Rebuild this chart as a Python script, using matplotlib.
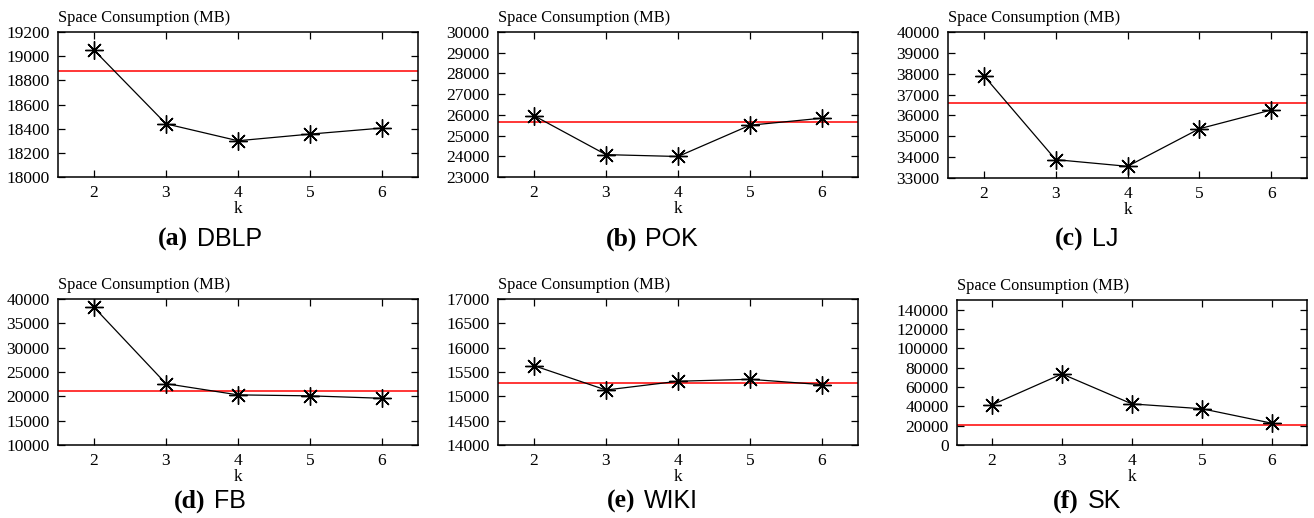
import numpy as np
import matplotlib
matplotlib.use("Agg")
import matplotlib.pyplot as plt
from matplotlib.offsetbox import TextArea, HPacker, AnchoredOffsetbox

# values
k = [2, 3, 4, 5, 6]

dblp = [19050, 18440, 18300, 18355, 18405]
pok = [25960, 24080, 23990, 25500, 25840]
lj = [37900, 33880, 33560, 35360, 36260]
fb = [38300, 22600, 20300, 20100, 19600]
wiki = [15630, 15130, 15310, 15350, 15240]
sk = [41500, 73500, 42500, 37500, 22500]

baselines = [18875, 25650, 36580, 21150, 15270, 20500]

labels = ["(a)", "(b)", "(c)", "(d)", "(e)", "(f)"]
names = ["DBLP", "POK", "LJ", "FB", "WIKI", "SK"]

ylims = [(18000, 19200), (23000, 30000), (33000, 40000),
         (10000, 40000), (14000, 17000), (0, 150000)]
ysteps = [200, 1000, 1000, 5000, 500, 20000]

series = [dblp, pok, lj, fb, wiki, sk]

W, H = 1314, 518
fig = plt.figure(figsize=(W / 100, H / 100), dpi=100)

# axes boxes in pixels: left, right, top, bottom
boxes = [(58, 418, 32, 177), (498, 858, 32, 177), (948, 1307, 32, 178),
         (58, 418, 299, 445), (498, 858, 299, 445), (957, 1307, 300, 445)]
cap_x = [210, 652, 1087]
cap_y = [239, 501]

serif = "Liberation Serif"

for i, (ys, base) in enumerate(zip(series, baselines)):
    l, r, t, b = boxes[i]
    ax = fig.add_axes([l / W, 1 - b / H, (r - l) / W, (b - t) / H])
    ax.axhline(base, color="red", lw=1.1, zorder=1)
    ax.plot(k, ys, color="black", lw=0.9, marker=(8, 2, 0), ms=13,
            mew=1.0, zorder=3)
    ax.set_xlim(1.5, 6.5)
    lo, hi = ylims[i]
    ax.set_ylim(lo, hi)
    ax.set_xticks(k)
    top_tick = hi if i != 5 else 140000
    ax.set_yticks(np.arange(lo, top_tick + 1, ysteps[i]))
    ax.tick_params(direction="in", length=5, width=0.9, top=True, right=True,
                   labelsize=12.5, pad=6)
    for lab in ax.get_xticklabels() + ax.get_yticklabels():
        lab.set_fontfamily(serif)
    for sp in ax.spines.values():
        sp.set_linewidth(1.1)
    ax.set_xlabel("k", fontfamily=serif, fontsize=12.5, labelpad=0)
    ax.text(0, 1.04, "Space Consumption (MB)", transform=ax.transAxes,
            fontfamily=serif, fontsize=11.8, ha="left", va="bottom")

    row, col = divmod(i, 3)
    box = HPacker(children=[
        TextArea(labels[i], textprops=dict(fontfamily=serif, fontweight="bold",
                                           fontsize=18.5)),
        TextArea(names[i], textprops=dict(fontfamily="Liberation Sans",
                                          fontsize=18)),
    ], align="baseline", pad=0, sep=6)
    anch = AnchoredOffsetbox(loc="center", child=box, frameon=False, pad=0,
                             bbox_to_anchor=(cap_x[col] / W, 1 - cap_y[row] / H),
                             bbox_transform=fig.transFigure, borderpad=0)
    fig.add_artist(anch)

fig.savefig("out.png", dpi=100)
